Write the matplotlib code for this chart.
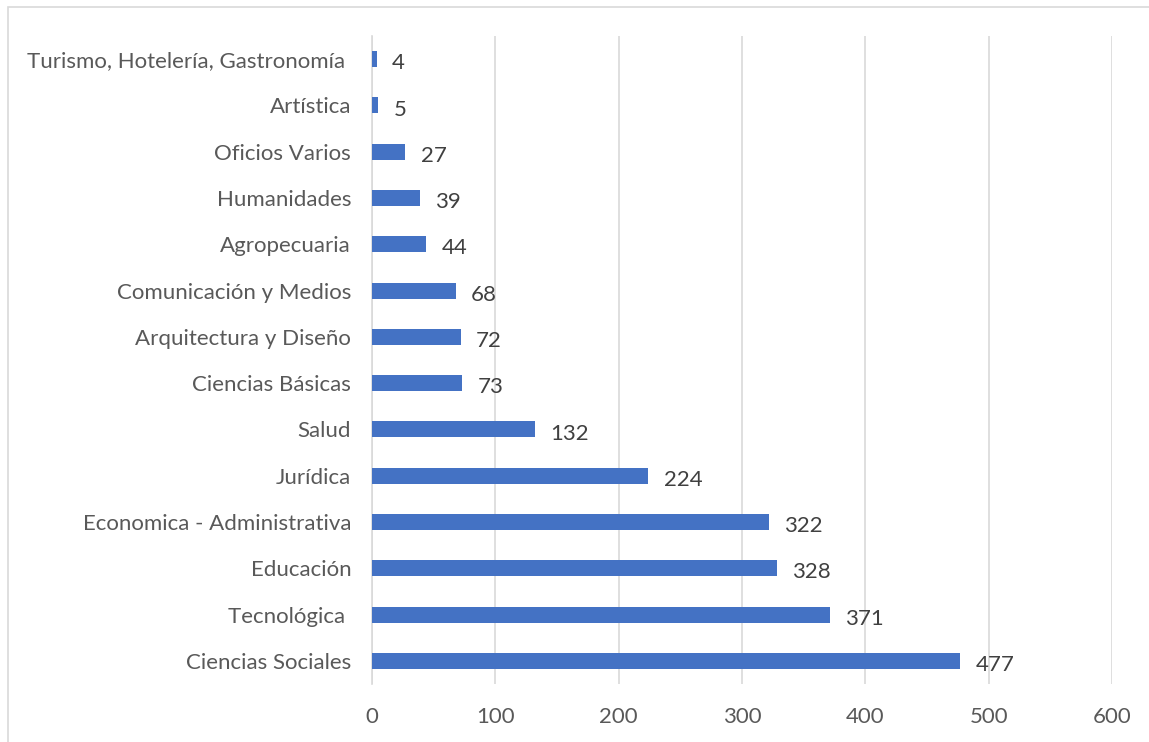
import matplotlib
matplotlib.use("Agg")
import matplotlib.pyplot as plt
from matplotlib.patches import Rectangle

categories = ["Ciencias Sociales", "Tecnológica ", "Educación", "Economica - Administrativa",
              "Jurídica", "Salud", "Ciencias Básicas", "Arquitectura y Diseño",
              "Comunicación y Medios", "Agropecuaria", "Humanidades", "Oficios Varios",
              "Artística", "Turismo, Hotelería, Gastronomía "]
values = [477, 371, 328, 322, 224, 132, 73, 72, 68, 44, 39, 27, 5, 4]
xticks = [0, 100, 200, 300, 400, 500, 600]

plt.rcParams['font.family'] = ['Lato', 'DejaVu Sans']

W, H = 1149, 742
fig = plt.figure(figsize=(W / 100, H / 100), dpi=100)
fig.patches.append(Rectangle((8 / W, -0.01), 1.2, 1 - 7 / H + 0.01, transform=fig.transFigure,
                             fill=False, edgecolor="#d9d9d9", linewidth=1.2))

ax = fig.add_axes([372 / W, 1 - 684 / H, (1112 - 372) / W, (684 - 36) / H])
y = list(range(len(categories)))
ax.barh(y, values, height=0.345, color="#4472C4", zorder=3)
for yi, v in zip(y, values):
    ax.annotate(str(v), (v, yi), xytext=(11, -3), textcoords="offset points",
                ha="left", va="center", fontsize=16, color="#404040")

ax.set_xlim(0, 600)
ax.set_ylim(-0.5, len(categories) - 0.5)
ax.set_xticks(xticks)
ax.set_xticklabels([str(t) for t in xticks])
ax.set_yticks(y)
ax.set_yticklabels(categories)
ax.tick_params(axis="both", length=0, labelsize=16, labelcolor="#595959")
ax.tick_params(axis="y", pad=15)
ax.tick_params(axis="x", pad=16.5)
ax.grid(axis="x", color="#d9d9d9", linewidth=1.2, zorder=0)
for s in ["top", "right", "bottom"]:
    ax.spines[s].set_visible(False)
ax.spines["left"].set_color("#d9d9d9")
ax.spines["left"].set_linewidth(1.2)

fig.savefig("out.png", dpi=100)
